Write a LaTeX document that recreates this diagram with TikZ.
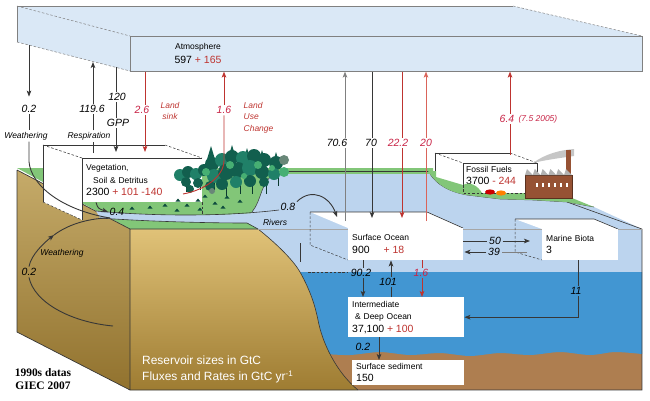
\documentclass[tikz,border=0pt]{standalone}
\usepackage{fontspec}
\setmainfont{Liberation Sans}
\newfontfamily\serifbold{Liberation Serif}
\usepackage{xcolor}
\usepackage{tikz}
\usetikzlibrary{arrows.meta,positioning}
\tikzset{>={Stealth[length=6bp,width=4.6bp,inset=1.4bp]}}
\definecolor{atmblue}{RGB}{218,232,246}
\definecolor{seablue}{RGB}{188,212,238}
\definecolor{deepblue}{RGB}{66,150,210}
\definecolor{mud}{RGB}{174,126,80}
\definecolor{grass}{RGB}{130,198,120}
\definecolor{goldtop}{RGB}{224,194,120}
\definecolor{goldbot}{RGB}{158,124,50}
\definecolor{fluxred}{RGB}{190,52,48}
\definecolor{lightred}{RGB}{218,100,90}
\definecolor{labred}{RGB}{200,36,70}
\definecolor{edge}{RGB}{55,55,55}
\definecolor{treeA}{RGB}{18,95,78}
\definecolor{treeB}{RGB}{32,128,104}
\definecolor{treeC}{RGB}{70,175,115}
\definecolor{treeD}{RGB}{105,135,120}
\definecolor{brick}{RGB}{150,82,52}
\newcommand{\numfont}{\fontsize{10.5}{14}\selectfont}
\tikzset{res box/.style={fill=white,anchor=north west,inner xsep=4bp,inner ysep=0pt,
            align=left,font=\fontsize{8.5}{12.5}\selectfont},
         box edge/.style={draw=edge,line width=.6bp},
         hidden/.style={draw=edge,line width=.5bp,dash pattern=on 2.5bp off 1.8bp},
         flux/.style={draw=edge,line width=.9bp},
         flux grey/.style={draw=gray,line width=.9bp},
         flux red/.style={draw=fluxred,line width=.9bp},
         lab/.style={font=\itshape\fontsize{10.5}{12}\selectfont,inner sep=1.5bp},
         lab red/.style={lab,text=labred},
         note/.style={font=\itshape\fontsize{8.5}{11.5}\selectfont,inner sep=1.5bp},
            }
\begin{document}
\begin{tikzpicture}[x=1bp,y=-1bp]
\useasboundingbox (0,0) rectangle (650,400);

% atmosphere
\fill[atmblue] (17,6) -- (513,6) -- (642,36) -- (642,71) -- (130,71) -- (17,42) -- cycle;
\draw[box edge,draw=gray] (17,42) -- (17,6) -- (513,6);
\draw[hidden,draw=gray] (17,6) -- (130,36) (17,42) -- (130,71) (513,6) -- (642,36);
\node[box edge,draw=gray,minimum width=512bp,minimum height=35bp,inner sep=0pt,anchor=north west] (atm) at (130,36) {};
\node[align=center,font=\fontsize{8.5}{15}\selectfont] (atmtxt) at (198,53.5) {Atmosphere\\{\numfont 597 \textcolor{fluxred}{+ 165}}};

% front of the block
\fill[mud] (300,345) rectangle (642,390);
\fill[seablue] (250,229) rectangle (642,273);
\fill[deepblue] (295,272) -- (642,272) -- (642,354) -- plot[smooth] coordinates {(642,354) (615,352) (590,355) (560,352) (530,355) (500,353) (470,356) (440,353) (410,355) (380,352) (350,355) (325,354)} -- cycle;
\shade[top color=goldtop,bottom color=goldbot] (130,229) -- (258,229) .. controls (272,240) and (292,258) .. (300,272) .. controls (310,290) and (315,305) .. (318,320) .. controls (322,342) and (336,372) .. (358,390) -- (130,390) -- cycle;
\draw[box edge] (258,229) .. controls (272,240) and (292,258) .. (300,272) .. controls (310,290) and (315,305) .. (318,320) .. controls (322,342) and (336,372) .. (358,390);

% top of the land and sea
\fill[grass] (17,168) -- (433,168) -- (433,177) -- (275,177) -- (262,205) -- (258,229) -- (130,229) -- cycle;
\fill[seablue] (258,229) -- (248,223) -- (252,212) .. controls (262,200) and (261,180) .. (275,174) -- (430,174) .. controls (437,185) and (450,192) .. (467,195) -- (500,199) -- (533,200) -- (567,202) -- (594,207) -- (642,229) -- cycle;
\draw[box edge,line width=.5bp] (252,212) .. controls (262,200) and (261,180) .. (275,174);
\draw[box edge,line width=.5bp] (263,171) -- (433,171);
\draw[box edge,line width=.5bp] (430,174) .. controls (437,185) and (450,192) .. (467,195) -- (500,199) -- (533,200) -- (567,202) -- (594,207);
\draw[box edge] (567,202) -- (642,229);

% left side of the block
\shade[top color=goldtop!88!black,bottom color=goldbot!92!black] (17,170) -- (130,229) -- (130,390) -- (17,332) -- cycle;
\draw[box edge,line width=.7bp] (17,170) -- (17,332) -- (130,390) -- (642,390) -- (642,229) (130,229) -- (130,390) (130,229) -- (258,229) (17,170) -- (130,229);
\draw[box edge,draw=gray!70,line width=.4bp] (258,229) -- (642,229);
\draw[box edge] (300,243) -- (300,262);
\draw[hidden] (308,272) -- (347,272);

% rivers
\fill[seablue] (96,211) .. controls (150,216) and (220,217) .. (277,211) -- (262,214) -- (250,223) .. controls (200,223) and (140,221) .. (100,218) -- cycle;
\draw[box edge] (96,211) .. controls (150,216) and (220,217) .. (279,210);
\draw[box edge] (100,218) .. controls (140,221) and (200,223) .. (247,223) -- (258,229);

% vegetation
\fill[white] (43,145) -- (165,145) -- (202,158) -- (82,158) -- (82,220) -- (43,202) -- cycle;
\draw[box edge] (43,202) -- (43,145) -- (165,145);
\draw[hidden] (43,145) -- (82,158) (165,145) -- (202,158) (43,202) -- (82,220);
\node[res box,minimum width=120bp,minimum height=44bp,text width=112bp] (veg) at (82,158) {Vegetation,\\\hspace*{7bp}Soil \& Detritus\\{\numfont 2300 \textcolor{fluxred}{+ 101 -140}}};
\draw[box edge] (82,220) -- (veg.north west) -- (veg.north east);
\draw[hidden] (veg.south east) -- ++(0,12);

% forest
\foreach \x/\y in {186/182,200/180,214/180,226/186,240/184,252/184,266/184,278/176,238/170}
    \draw[treeA!60!black,line width=.9bp] (\x,\y) -- ++(0,10);
\foreach \x/\y in {211/146,232/145,247/148,262/150,276/152}
    \fill[treeA] (\x,\y) -- (\x-4.5,\y+15) -- (\x+4.5,\y+15) -- cycle;
\foreach \x/\y/\r/\c in {180/175/6/treeB,188/172/6/treeA,196/174/6/treeB,204/170/6/treeA,
    186/182/5/treeA,198/183/5/treeA,190/189/4/treeA,
    212/164/7/treeA,222/160/7/treeB,232/157/7/treeA,243/158/7/treeB,254/156/7/treeA,
    264/160/7/treeA,276/163/7/treeA,284/160/5/treeD,
    214/176/7/treeB,226/172/8/treeA,238/170/8/treeA,250/168/8/treeB,262/172/7/treeA,
    274/174/6/treeB,284/172/5/treeC,222/184/6/treeA,236/182/6/treeB,250/181/6/treeA,
    264/182/5/treeA,210/186/5/treeA,206/172/4/treeC,230/165/4/treeC,258/165/4/treeC,
    244/176/3/treeC,272/168/3/treeC,212/191/3/treeD}
    \fill[\c] (\x,\y) circle (\r bp);
\foreach \x/\y in {165/205,178/200,187/205,198/200,205/196,200/209,215/203,223/207,227/197,240/201,177/210,150/207,132/208}
    \fill[treeA!80!black] (\x-2.5,\y+1.5) -- (\x,\y-1.5) -- (\x+2.5,\y+1.5) -- cycle;

% fossil fuels
\fill[white] (435,153) -- (510,153) -- (537,163) -- (463,163) -- (463,186) -- (435,177) -- cycle;
\draw[box edge] (435,177) -- (435,153) -- (510,153);
\draw[hidden] (435,153) -- (463,163) (510,153) -- (537,163);
\draw[box edge,fill=white] (463,163) rectangle (537,193);
\node[res box,fill=none,inner xsep=3bp,minimum height=25bp,text width=68bp] (ff) at (463,163) {Fossil Fuels\\{\numfont 3700 \textcolor{fluxred}{- 244}}};
\fill[grass] (428,171) -- (436,171) -- (436,177) -- (463,185) .. controls (470,181) and (478,186) .. (482,193) -- (527,193) -- (527,198) -- (572,198) -- (594,207) -- (567,202) -- (533,200) -- (500,199) -- (467,195) .. controls (448,192) and (436,184) .. (428,171) -- cycle;
\draw[hidden] (463,185) -- (463,193) -- (527,193);
\fill[red!80!black] (490,192) ellipse (5bp and 2.6bp);
\fill[orange] (501,193) ellipse (5bp and 2.6bp);
\fill[gray!45] (533,163) .. controls (545,154) and (560,150) .. (574,149) -- (574,156) .. controls (560,158) and (545,160) .. (533,163) -- cycle;
\fill[brick] (566,150) rectangle (571,175);
\fill[brick] (525,175) rectangle (572,198);
\draw[brick!60!black,line width=.4bp] (525,175) rectangle (572,198);
\foreach \i in {0,...,5}
    \fill[gray!60] (525+\i*7.8,175) -- ++(2,-6) -- ++(5.8,6) -- cycle;
\foreach \i in {0,...,5}
    \fill[white] (536+\i*6,183) rectangle ++(2,4);

% ocean reservoirs
\fill[white] (310,212) -- (427,212) -- (463,228) -- (348,228) -- cycle;
\draw[box edge] (310,212) -- (427,212) -- (463,228);
\draw[hidden] (310,212) -- (310,245) -- (348,260);
\node[res box,minimum height=32bp,text width=107bp] (so) at (348,228) {Surface Ocean\\{\numfont 900\hspace{14bp}\textcolor{fluxred}{+ 18}}};
\fill[white] (515,219) -- (594,219) -- (618,229) -- (542,229) -- cycle;
\draw[box edge] (515,219) -- (594,219) -- (618,229);
\draw[hidden] (515,219) -- (515,252) -- (542,260);
\node[res box,minimum height=31bp,text width=68bp] (mb) at (542,229) {Marine Biota\\{\numfont 3}};
\node[res box,minimum height=40bp,text width=108bp] (ido) at (348,297) {Intermediate\\\hspace*{3bp}\& Deep Ocean\\{\numfont 37,100 \textcolor{fluxred}{+ 100}}};
\node[res box,minimum height=25bp,text width=104bp] (sed) at (352,360) {Surface sediment\\{\numfont 150}};

% atmosphere - land
\coordinate (wth top) at (29,45);
\node[lab] (w02) at (29,109) {0.2};
\node[note] (wth) at (26,136) {Weathering};
\draw[flux,->,shorten >=7bp] (wth top) -- (w02.north);
\draw[flux] (w02.south) -- (wth top |- wth.north);
\draw[flux] (wth top |- wth.south) -- ++(0,20) .. controls +(2,24) and (62,210) .. (110,218);

\coordinate (resp top) at (93,62);
\node[lab] (r196) at (92,109) {119.6};
\node[note] (resp) at (89,136) {Respiration};
\draw[flux,->] (resp top |- r196.north) -- (resp top);
\draw[flux] (resp top |- resp.north) -- (resp top |- r196.south);
\draw[flux,shorten <=5bp] (resp top |- veg.north) -- (resp top |- resp.south);

\coordinate (gpp top) at (116,67);
\node[lab] (g120) at (117,97) {120};
\node[lab] (gpp) at (118,123) {GPP};
\draw[flux] (gpp top) -- (gpp top |- g120.north);
\draw[flux] (gpp top |- g120.south) -- (gpp top |- gpp.north);
\draw[flux,->,shorten >=6bp] (gpp top |- gpp.south) -- (gpp top |- veg.north);

\coordinate (x26) at (145,0);
\node[lab red] (f26) at (142,110) {2.6};
\node[note,text=fluxred,align=center] (lsink) at (170,111) {Land\\sink};
\draw[flux red] (atm.south -| x26) -- (x26 |- f26.north);
\draw[flux red,->,shorten >=6bp] (x26 |- f26.south) -- (veg.north -| x26);

\node[lab red] (f16l) at (224,110) {1.6};
\node[note,text=fluxred,align=left,anchor=west] (luc) at (242,117.5) {Land\\Use\\Change};
\coordinate (luc root) at (183,194);
\draw[flux red,->] (f16l.north) -- (f16l |- atm.south);
\draw[flux red] (f16l.south) -- ++(0,45) .. controls +(0,16) and (205,190) .. (luc root);

% atmosphere - ocean
\coordinate (x706) at (345,221);
\coordinate (x70) at (372,218);
\coordinate (x222) at (402,218);
\coordinate (x20) at (426,221);
\coordinate (x64) at (510,155);
\node[lab] (f706) at (337,143) {70.6};
\node[lab] (f70) at (371,143) {70};
\node[lab red] (f222) at (398,143) {22.2};
\node[lab red] (f20) at (426,143) {20};
\node[lab red] (f64) at (507,119) {6.4};
\node[lab red,font=\itshape\fontsize{8.5}{10}\selectfont,right=1bp of f64] (f75) {(7.5 2005)};
\draw[flux grey] (x706) -- (x706 |- f706.south);
\draw[flux grey,->] (x706 |- f706.north) -- (atm.south -| x706);
\draw[flux] (atm.south -| x70) -- (x70 |- f70.north);
\draw[flux,->] (x70 |- f70.south) -- (x70);
\draw[flux red] (atm.south -| x222) -- (x222 |- f222.north);
\draw[flux red,->] (x222 |- f222.south) -- (x222);
\draw[flux red,draw=lightred] (x20) -- (x20 |- f20.south);
\draw[flux red,draw=lightred,->] (x20 |- f20.north) -- (atm.south -| x20);
\draw[flux red] (x64) -- (x64 |- f64.south);
\draw[flux red,->] (x64 |- f64.north) -- (atm.south -| x64);

% land - ocean
\node[lab] (f04) at (117,212) {0.4};
\coordinate (x04) at (96,0);
\draw[flux,->] (veg.south -| x04) .. controls +(2,6) .. (f04.west);
\node[lab] (f08) at (288,207) {0.8};
\node[note] (riv) at (275,222) {Rivers};
\coordinate (so in) at (337,217);
\draw[flux,->] (f08.north east) .. controls (312,187) and (330,197) .. (so in);

\node[lab] (g02) at (29,272) {0.2};
\node[note] (gwth) at (62,253) {Weathering};
\coordinate (gw start) at (113,326);
\coordinate (gw tip) at (54,235);
\draw[flux] (gw start) .. controls (70,322) and (34,302) .. (g02.south);
\draw[flux,->] (g02.north) .. controls +(2,-12) and (45,242) .. (gw tip);
\draw[flux] (gw tip) .. controls (70,223) and (92,218) .. (110,218);

% inside the ocean
\coordinate (x902) at (363,0);
\coordinate (x101) at (391,0);
\coordinate (x16) at (422,0);
\coordinate (x11) at (578,0);
\coordinate (x02) at (379,0);
\node[lab] (f902) at (361,273) {90.2};
\node[lab] (f101) at (388,282) {101};
\node[lab red] (f16) at (421,273) {1.6};
\node[lab] (f11) at (576,291) {11};
\node[lab] (f02) at (363,347) {0.2};
\node[lab] (f50) at (495,241) {50};
\node[lab] (f39) at (494,252) {39};
\draw[flux] (so.south -| x902) -- (x902 |- f902.north);
\draw[flux,->] (x902 |- f902.south) -- (ido.north -| x902);
\draw[flux] (ido.north -| x101) -- (x101 |- f101.south);
\draw[flux,->] (x101 |- f101.north) -- (so.south -| x101);
\draw[flux red] (so.south -| x16) -- (x16 |- f16.north);
\draw[flux red,->] (x16 |- f16.south) -- (ido.north -| x16);
\draw[flux] (mb.south -| x11) -- (x11 |- f11.north);
\draw[flux,->] (x11 |- f11.south) |- (ido.east);
\draw[flux,->] (ido.south -| x02) -- (sed.north -| x02);
\coordinate (x50) at (530,241);
\coordinate (x39) at (527,252);
\draw[flux] (so.east |- f50) -- (f50.west);
\draw[flux,->] (f50.east) -- (x50);
\draw[flux grey] (x39) -- (f39.east);
\draw[flux,->,shorten >=1bp] (f39.west) -- (so.east |- f39);

% legend
\node[anchor=north west,align=left,text=white,font=\fontsize{12}{16}\selectfont,inner sep=0pt] (units) at (142,356) {Reservoir sizes in GtC\\Fluxes and Rates in GtC yr\textsuperscript{-1}};
\node[align=center,font=\serifbold\bfseries\fontsize{11.5}{13.5}\selectfont] (src) at (43,379) {1990s datas\\GIEC 2007};

\end{tikzpicture}
\end{document}
